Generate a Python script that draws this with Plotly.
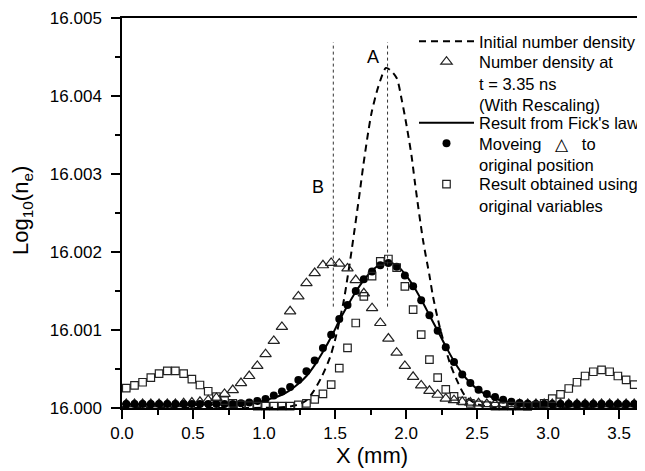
import plotly.graph_objects as go

# ---------------- data ----------------
x_grid = [0.030, 0.088, 0.145, 0.203, 0.261, 0.319, 0.376, 0.434, 0.492, 0.549,
          0.607, 0.665, 0.722, 0.780, 0.838, 0.896, 0.953, 1.011, 1.069, 1.126,
          1.184, 1.242, 1.299, 1.357, 1.415, 1.473, 1.530, 1.588, 1.646, 1.703,
          1.761, 1.819, 1.876, 1.934, 1.992, 2.050, 2.107, 2.165, 2.223, 2.280,
          2.338, 2.396, 2.453, 2.511, 2.569, 2.627, 2.684, 2.742, 2.800, 2.857,
          2.915, 2.973, 3.030, 3.088, 3.146, 3.204, 3.261, 3.319, 3.377, 3.434,
          3.492, 3.550, 3.607, 3.665]

triangles_y = [16.00005, 16.00005, 16.00005, 16.00005, 16.00005, 16.00005, 16.00005, 16.00006, 16.00007, 16.00008,
               16.00010, 16.00013, 16.00018, 16.00023, 16.00032, 16.00041, 16.00054, 16.00069, 16.00086, 16.00104,
               16.00124, 16.00143, 16.00160, 16.00173, 16.00183, 16.00186, 16.00185, 16.00179, 16.00164, 16.00147,
               16.00128, 16.00109, 16.00089, 16.00071, 16.00054, 16.00040, 16.00029, 16.00022, 16.00017, 16.00012,
               16.00010, 16.00008, 16.00007, 16.00006, 16.00005, 16.00005, 16.00005, 16.00005, 16.00005, 16.00005,
               16.00005, 16.00005, 16.00005, 16.00005, 16.00005, 16.00005, 16.00005, 16.00005, 16.00005, 16.00005,
               16.00005, 16.00005, 16.00005, 16.00005]

fick_y = [16.000045, 16.000045, 16.000045, 16.000045, 16.000045, 16.000045, 16.000045, 16.000045, 16.000045, 16.000045,
          16.000045, 16.000045, 16.000045, 16.000045, 16.00005, 16.00006, 16.000075, 16.00010, 16.00013, 16.00017,
          16.00023, 16.00031, 16.00041, 16.00055, 16.00072, 16.00091, 16.00112, 16.00131, 16.00149, 16.00164,
          16.00176, 16.00184, 16.00187, 16.00183, 16.00172, 16.00157, 16.00139, 16.00119, 16.00099, 16.00079,
          16.00060, 16.00044, 16.00032, 16.00023, 16.00017, 16.00012, 16.00009, 16.00007, 16.000055, 16.000045,
          16.000045, 16.000045, 16.000045, 16.000045, 16.000045, 16.000045, 16.000045, 16.000045, 16.000045, 16.000045,
          16.000045, 16.000045, 16.000045, 16.000045]

circles_y = [16.00005, 16.00005, 16.00005, 16.00005, 16.00005, 16.00005, 16.00005, 16.00005, 16.00005, 16.00005,
             16.00005, 16.00005, 16.00005, 16.00005, 16.00006, 16.00007, 16.00009, 16.000115, 16.00016, 16.00021,
             16.00027, 16.00036, 16.00047, 16.00061, 16.00077, 16.00094, 16.00114, 16.00132, 16.00150, 16.00165,
             16.00175, 16.00183, 16.00186, 16.00181, 16.00170, 16.00156, 16.00138, 16.00119, 16.00099, 16.00078,
             16.00059, 16.00043, 16.00032, 16.000235, 16.00018, 16.00014, 16.000105, 16.00008, 16.000065, 16.000055,
             16.00005, 16.00005, 16.00005, 16.00005, 16.00005, 16.00005, 16.00005, 16.00005, 16.00005, 16.00005,
             16.00005, 16.00005, 16.00005, 16.00005]

squares_y = [16.000255, 16.00029, 16.00033, 16.00039, 16.00044, 16.000475, 16.000475, 16.00044, 16.00037, 16.000295,
             16.000215, 16.000145, 16.000094, 16.00006, 16.00004, 16.00003, 16.000025, 16.000025, 16.000025, 16.000025,
             16.000025, 16.00004, 16.00006, 16.00011, 16.00018, 16.00030, 16.00051, 16.00077, 16.00109, 16.00143,
             16.00169, 16.00188, 16.00191, 16.00180, 16.00156, 16.00126, 16.00094, 16.00062, 16.00039, 16.00024,
             16.00015, 16.00009, 16.00006, 16.00004, 16.00003, 16.000025, 16.000025, 16.000025, 16.000025, 16.00002,
             16.00003, 16.00006, 16.00012, 16.000175, 16.00025, 16.00033, 16.00041, 16.000465, 16.00049, 16.000465,
             16.00041, 16.00036, 16.00030, 16.00026]

initial_x = [0.0, 0.8, 1.0, 1.1, 1.2, 1.25, 1.30, 1.347, 1.406, 1.465, 1.50, 1.558, 1.582, 1.617, 1.676, 1.70,
             1.735, 1.758, 1.805, 1.859, 1.89, 1.934, 1.97, 2.005, 2.04, 2.065, 2.12, 2.165, 2.19, 2.24, 2.31,
             2.37, 2.415, 2.5, 2.6, 2.8, 3.68]
initial_y = [16.0, 16.0, 16.000003, 16.000008, 16.000025, 16.00005, 16.0001, 16.00021, 16.0004, 16.00065, 16.00087,
             16.00134, 16.0016, 16.00202, 16.00279, 16.00312, 16.00355, 16.00379, 16.00412, 16.00436, 16.00433,
             16.00423, 16.00395, 16.00361, 16.00322, 16.00286, 16.00215, 16.0017, 16.00143, 16.00102, 16.00057,
             16.00031, 16.00016, 16.00005, 16.000015, 16.000002, 16.0]

marker_lines_x = [1.488, 1.870]          # positions of points B and A
marker_lines_y = [16.0013, 16.00469]    # vertical extent of the dotted lines
labels_text = ["A", "B"]
labels_x = [1.766, 1.38]
labels_y = [16.0045, 16.00283]

x_ticks = [0.0, 0.5, 1.0, 1.5, 2.0, 2.5, 3.0, 3.5]
y_ticks = [16.000, 16.001, 16.002, 16.003, 16.004, 16.005]

NB = "\u00a0"
names = ["Initial number density",
         "Number density at<br>t = 3.35 ns<br>(With Rescaling)",
         "Result from Fick's law",
         "Moveing" + NB * 3 + "\u25b3" + NB * 3 + "to<br>original position",
         "Result obtained using<br>original variables"]

FONT = "Liberation Sans, Arial, sans-serif"

# figure is placed at (8, 8) in the page by the default body margin
W, H = 637, 463
ML, MT, MB = 114, 10, 63
PW, PH = W - ML, H - MT - MB   # 523 x 390

fig = go.Figure()
fig.add_trace(go.Scatter(x=initial_x, y=initial_y, mode="lines", name=names[0], legend="legend",
                         line=dict(color="black", width=2, dash="7px,5px", shape="spline", smoothing=0.8)))
fig.add_trace(go.Scatter(x=x_grid, y=triangles_y, mode="markers", name=names[1], legend="legend2",
                         cliponaxis=False,
                         marker=dict(symbol="triangle-up-open", size=10, color="#222", line=dict(width=1.2))))
fig.add_trace(go.Scatter(x=x_grid, y=fick_y, mode="lines", name=names[2], legend="legend3",
                         line=dict(color="black", width=2, shape="spline", smoothing=0.8)))
fig.add_trace(go.Scatter(x=x_grid, y=circles_y, mode="markers", name=names[3], legend="legend4",
                         cliponaxis=False, marker=dict(symbol="circle", size=8, color="black")))
fig.add_trace(go.Scatter(x=x_grid, y=squares_y, mode="markers", name=names[4], legend="legend5",
                         cliponaxis=False,
                         marker=dict(symbol="square-open", size=7.5, color="#222", line=dict(width=1.2))))

for xv in marker_lines_x:
    fig.add_shape(type="line", xref="x", yref="y", x0=xv, x1=xv,
                  y0=marker_lines_y[0], y1=marker_lines_y[1],
                  line=dict(color="#333", width=1, dash="3px,3px"))

for t, xv, yv in zip(labels_text, labels_x, labels_y):
    fig.add_annotation(x=xv, y=yv, xref="x", yref="y", text=t, showarrow=False,
                       font=dict(size=18, color="black", family=FONT))

# axis titles
fig.add_annotation(x=(372 - 8 - ML) / PW, y=-(455 - 8 - (MT + PH)) / PH, xref="paper", yref="paper",
                   text="X (mm)", showarrow=False, font=dict(size=22, color="black", family=FONT),
                   xanchor="center", yanchor="middle")
fig.add_annotation(x=-(ML - (22 - 8)) / PW, y=1 - (211 - 8 - MT) / PH, xref="paper", yref="paper",
                   text="Log<sub>10</sub>(n<sub>e</sub>)", textangle=-90,
                   showarrow=False, font=dict(size=22, color="black", family=FONT),
                   xanchor="center", yanchor="middle")

leg_common = dict(font=dict(size=16.5, family=FONT, color="black"), bgcolor="rgba(0,0,0,0)",
                  borderwidth=0, valign="top", xanchor="left", yanchor="top", itemwidth=55)
leg_x = (479 - 65 - 8 - ML) / PW


def leg_y(c):
    return 1 - (c - 34) / PH


fig.update_layout(
    legend=dict(x=leg_x, y=leg_y(40), **leg_common),
    legend2=dict(x=leg_x, y=leg_y(60.4), **leg_common),
    legend3=dict(x=leg_x, y=leg_y(121.6), **leg_common),
    legend4=dict(x=leg_x, y=leg_y(142), **leg_common),
    legend5=dict(x=leg_x, y=leg_y(182.8), **leg_common),
)

axis_common = dict(showgrid=False, zeroline=False, showline=True, linecolor="black", linewidth=1.5,
                   ticks="outside", ticklen=9, tickwidth=1.5, tickcolor="black",
                   tickfont=dict(size=17, family=FONT, color="black"))
fig.update_xaxes(range=[0, 3.683], tickvals=x_ticks, ticktext=[f"{v:.1f}" for v in x_ticks],
                 mirror=True, minor=dict(ticks="outside", ticklen=5, dtick=0.25, tick0=0,
                                         tickwidth=1.5, tickcolor="black", showgrid=False),
                 **axis_common)
fig.update_yaxes(range=[16.0, 16.005], tickvals=y_ticks, ticktext=[f"{v:.3f}" for v in y_ticks],
                 ticklabelstandoff=6,
                 minor=dict(ticks="outside", ticklen=5, dtick=0.0005, tick0=16.0,
                            tickwidth=1.5, tickcolor="black", showgrid=False),
                 **axis_common)

fig.update_layout(width=W, height=H, margin=dict(l=ML, r=0, t=MT, b=MB),
                  paper_bgcolor="white", plot_bgcolor="white",
                  font=dict(family=FONT, color="black"), showlegend=True)

fig.write_html("out.html")
